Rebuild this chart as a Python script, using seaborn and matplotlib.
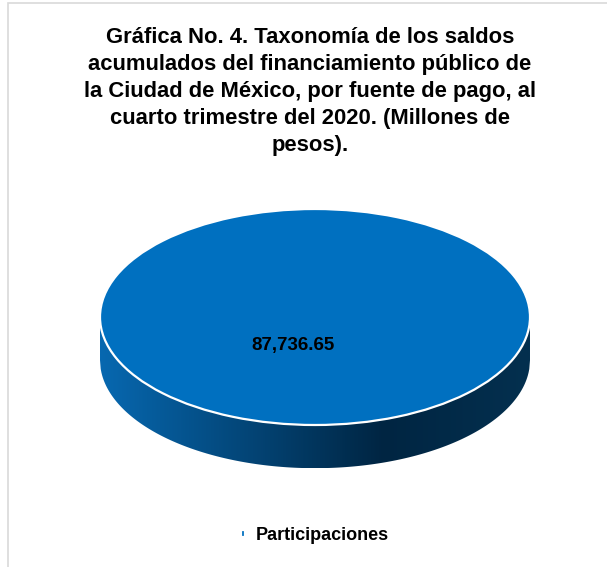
import numpy as np
import matplotlib
matplotlib.use("Agg")
import matplotlib.pyplot as plt
from matplotlib.colors import LinearSegmentedColormap
from matplotlib.patches import Rectangle
import seaborn as sns

# Data
categories = ["Participaciones"]
values = [87736.65]
title = ("Gráfica No. 4. Taxonomía de los saldos\n"
         "acumulados del financiamiento público de\n"
         "la Ciudad de México, por fuente de pago, al\n"
         "cuarto trimestre del 2020. (Millones de\n"
         "pesos).")

top_color = "#0070C0"
side_cmap = LinearSegmentedColormap.from_list(
    "side", [(0.0, "#0768b0"), (0.66, "#002542"), (1.0, "#04304f")])

sns.set_theme(style="white")
plt.rcParams["font.family"] = ["Liberation Sans", "DejaVu Sans"]

W, H = 607, 567
fig = plt.figure(figsize=(W / 100, H / 100), dpi=100)
fig.patch.set_facecolor("white")

# outer frame (runs off the right and bottom edge)
fig.patches.append(Rectangle((8 / W, -0.05), 1.2, (H - 3) / H + 0.05,
                             transform=fig.transFigure, fill=False,
                             edgecolor="#d9d9d9", linewidth=1.2))

# axes: 1 data unit = 215 px horizontally, 108 px vertically
cx, cy, rx, ry = 315, 250, 215, 108
y0, y1 = -1.7, 1.1
ax = fig.add_axes([(cx - rx) / W, (cy + y0 * ry) / H, 2 * rx / W, (y1 - y0) * ry / H])

depth = 0.40
xs = np.linspace(-1, 1, 600)
front = -np.sqrt(np.clip(1 - xs ** 2, 0, None))

# side wall of the disc with horizontal shading
band = ax.fill_between(xs, front - depth, front + 0.12, color="none", lw=0)
grad = np.linspace(0, 1, 512).reshape(1, -1)
img = ax.imshow(grad, cmap=side_cmap, aspect="auto",
                extent=(-1, 1, -1 - depth, 0.2), zorder=1)
img.set_clip_path(band.get_paths()[0], transform=ax.transData)

# top face of the disc
wedges, texts, autotexts = ax.pie(
    values, colors=[top_color], startangle=68.6, radius=1.0,
    autopct=lambda p: f"{p * sum(values) / 100:,.2f}", pctdistance=0.279,
    wedgeprops=dict(edgecolor="white", linewidth=1.6, zorder=3),
    textprops=dict(fontsize=13.5, fontweight="bold", color="black"))
for t in autotexts:
    t.set_zorder(5)

ax.set_aspect("auto")
ax.set_xlim(-1, 1)
ax.set_ylim(y0, y1)
ax.axis("off")

fig.text(310 / W, 1 - 27 / H, title, ha="center", va="top",
         fontsize=15.8, fontweight="bold", color="black", linespacing=1.38)

leg = fig.legend(wedges, categories, loc="center", bbox_to_anchor=(315 / W, 31 / H),
                 frameon=False, handlelength=0.22, handleheight=0.22,
                 handletextpad=0.6, labelcolor="black",
                 prop=dict(size=13, weight="bold"))

fig.savefig("out.png", dpi=100, facecolor="white")
